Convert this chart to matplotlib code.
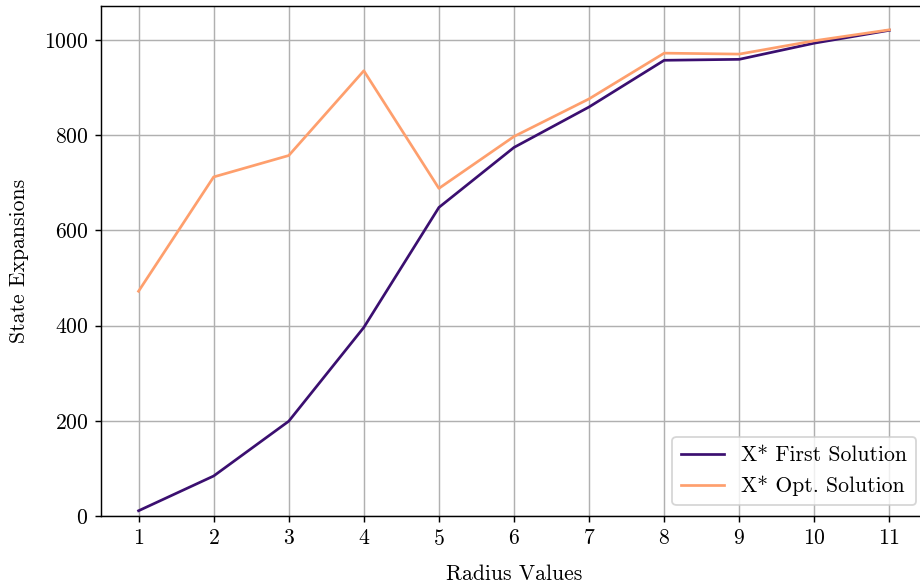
import numpy as np
import matplotlib
matplotlib.use('Agg')
import matplotlib.pyplot as plt

plt.rcParams['font.family'] = ['cmr10', 'DejaVu Serif']
plt.rcParams['axes.formatter.use_mathtext'] = True
plt.rcParams['font.size'] = 12

# radius values and state expansions
radius = [1, 2, 3, 4, 5, 6, 7, 8, 9, 10, 11]
first_solution = [11, 84, 199, 396, 648, 774, 859, 957, 959, 993, 1020]
opt_solution = [472, 712, 757, 935, 688, 797, 876, 972, 970, 998, 1021]

dpi = 130
fig = plt.figure(figsize=(920 / dpi, 585 / dpi), dpi=dpi)
ax = fig.add_axes([101 / 920, 1 - 516 / 585, 826 / 920, 510 / 585])

ax.plot(radius, first_solution, color='#3b0f70', lw=1.5, label='X* First Solution')
ax.plot(radius, opt_solution, color='#fe9f6d', lw=1.5, label='X* Opt. Solution')

ax.set_xlim(0.5, 11.5)
ax.set_ylim(0, 1071)
ax.set_xticks(radius)
ax.grid(True)
ax.set_xlabel('Radius Values', labelpad=8.5)
ax.set_ylabel('State Expansions', labelpad=8)
ax.legend(loc='lower right')

fig.savefig('out.png', dpi=dpi)
